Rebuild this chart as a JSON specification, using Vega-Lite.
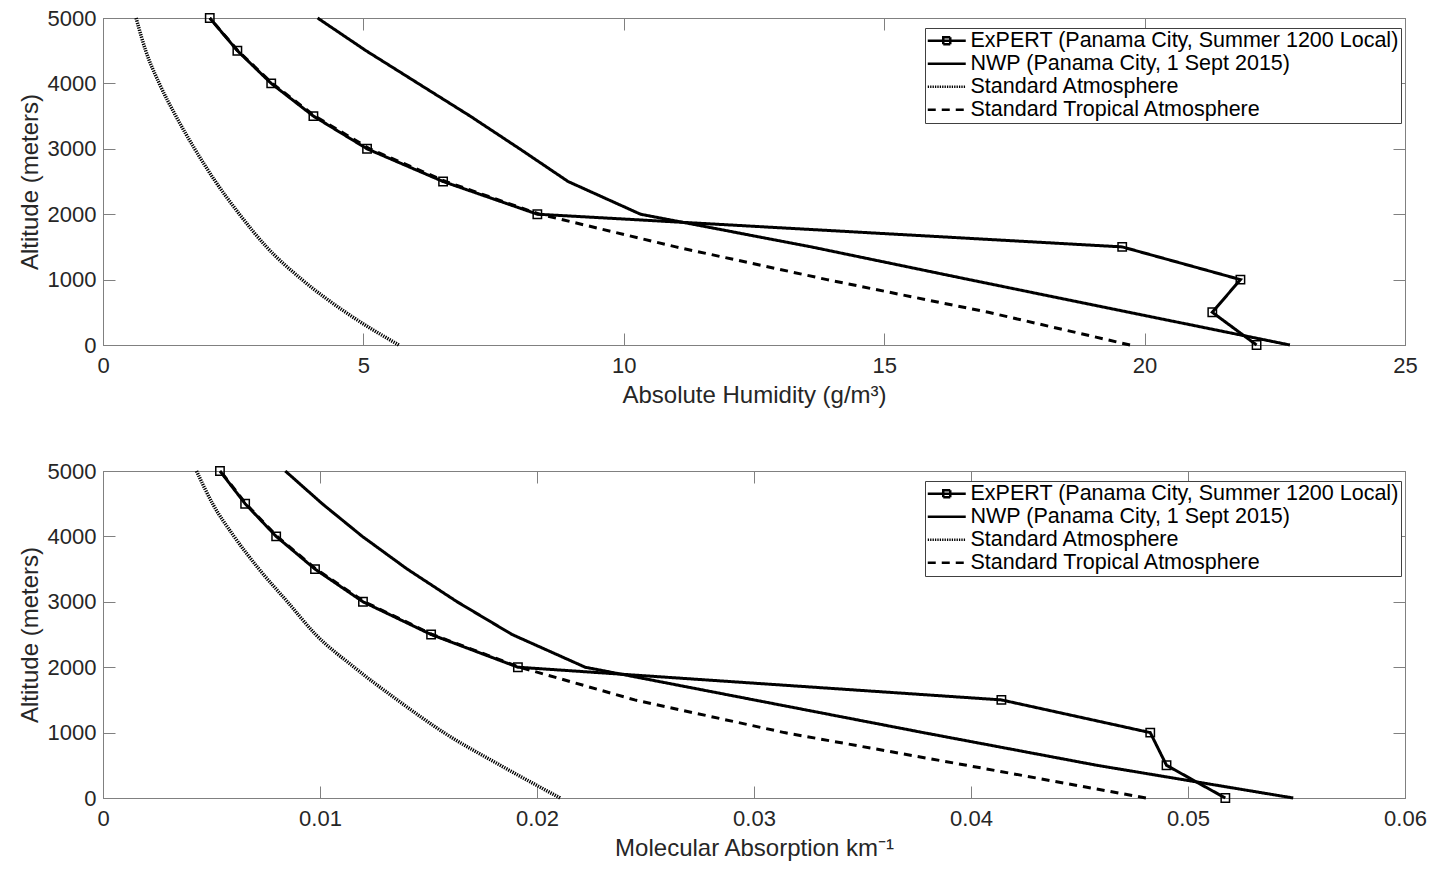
{
  "$schema": "https://vega.github.io/schema/vega-lite/v6.json",
  "background": "white",
  "padding": {"left": 17, "top": 6, "right": 0, "bottom": 0},
  "spacing": 51,
  "config": {
    "font": "Liberation Sans",
    "view": {"stroke": "#808080", "strokeWidth": 1},
    "axis": {
      "domainColor": "#808080", "tickColor": "#808080", "tickSize": -12, "tickWidth": 1,
      "labelFontSize": 22, "labelColor": "#262626", "labelFont": "Liberation Sans",
      "titleFontSize": 24, "titleFontWeight": "normal", "titleColor": "#262626", "titleFont": "Liberation Sans",
      "grid": false, "labelFlush": false
    },
    "axisX": {"labelPadding": 22, "titlePadding": 7},
    "axisY": {"labelPadding": 19, "titlePadding": 5}
  },
  "datasets": {
    "hum": [
      {"s": "ExPERT (Panama City, Summer 1200 Local)", "alt": 0, "v": 22.15},
      {"s": "ExPERT (Panama City, Summer 1200 Local)", "alt": 500, "v": 21.30},
      {"s": "ExPERT (Panama City, Summer 1200 Local)", "alt": 1000, "v": 21.84},
      {"s": "ExPERT (Panama City, Summer 1200 Local)", "alt": 1500, "v": 19.57},
      {"s": "ExPERT (Panama City, Summer 1200 Local)", "alt": 2000, "v": 8.34},
      {"s": "ExPERT (Panama City, Summer 1200 Local)", "alt": 2500, "v": 6.53},
      {"s": "ExPERT (Panama City, Summer 1200 Local)", "alt": 3000, "v": 5.07},
      {"s": "ExPERT (Panama City, Summer 1200 Local)", "alt": 3500, "v": 4.04},
      {"s": "ExPERT (Panama City, Summer 1200 Local)", "alt": 4000, "v": 3.23},
      {"s": "ExPERT (Panama City, Summer 1200 Local)", "alt": 4500, "v": 2.58},
      {"s": "ExPERT (Panama City, Summer 1200 Local)", "alt": 5000, "v": 2.05},
      {"s": "NWP (Panama City, 1 Sept 2015)", "alt": 0, "v": 22.79},
      {"s": "NWP (Panama City, 1 Sept 2015)", "alt": 500, "v": 19.70},
      {"s": "NWP (Panama City, 1 Sept 2015)", "alt": 1000, "v": 16.63},
      {"s": "NWP (Panama City, 1 Sept 2015)", "alt": 1500, "v": 13.60},
      {"s": "NWP (Panama City, 1 Sept 2015)", "alt": 2000, "v": 10.32},
      {"s": "NWP (Panama City, 1 Sept 2015)", "alt": 2500, "v": 8.93},
      {"s": "NWP (Panama City, 1 Sept 2015)", "alt": 3000, "v": 8.00},
      {"s": "NWP (Panama City, 1 Sept 2015)", "alt": 3500, "v": 7.05},
      {"s": "NWP (Panama City, 1 Sept 2015)", "alt": 4000, "v": 6.05},
      {"s": "NWP (Panama City, 1 Sept 2015)", "alt": 4500, "v": 5.05},
      {"s": "NWP (Panama City, 1 Sept 2015)", "alt": 5000, "v": 4.12},
      {"s": "Standard Atmosphere", "alt": 0, "v": 5.68},
      {"s": "Standard Atmosphere", "alt": 500, "v": 4.66},
      {"s": "Standard Atmosphere", "alt": 1000, "v": 3.82},
      {"s": "Standard Atmosphere", "alt": 1500, "v": 3.14},
      {"s": "Standard Atmosphere", "alt": 2000, "v": 2.62},
      {"s": "Standard Atmosphere", "alt": 2500, "v": 2.16},
      {"s": "Standard Atmosphere", "alt": 3000, "v": 1.76},
      {"s": "Standard Atmosphere", "alt": 3500, "v": 1.40},
      {"s": "Standard Atmosphere", "alt": 4000, "v": 1.08},
      {"s": "Standard Atmosphere", "alt": 4500, "v": 0.82},
      {"s": "Standard Atmosphere", "alt": 5000, "v": 0.635},
      {"s": "Standard Tropical Atmosphere", "alt": 0, "v": 19.72},
      {"s": "Standard Tropical Atmosphere", "alt": 500, "v": 17.0},
      {"s": "Standard Tropical Atmosphere", "alt": 1000, "v": 13.9},
      {"s": "Standard Tropical Atmosphere", "alt": 1500, "v": 11.0},
      {"s": "Standard Tropical Atmosphere", "alt": 2000, "v": 8.38},
      {"s": "Standard Tropical Atmosphere", "alt": 2500, "v": 6.58},
      {"s": "Standard Tropical Atmosphere", "alt": 3000, "v": 5.12},
      {"s": "Standard Tropical Atmosphere", "alt": 3500, "v": 4.07},
      {"s": "Standard Tropical Atmosphere", "alt": 4000, "v": 3.25},
      {"s": "Standard Tropical Atmosphere", "alt": 4500, "v": 2.59},
      {"s": "Standard Tropical Atmosphere", "alt": 5000, "v": 2.05}
    ],
    "abs": [
      {"s": "ExPERT (Panama City, Summer 1200 Local)", "alt": 0, "v": 0.05172},
      {"s": "ExPERT (Panama City, Summer 1200 Local)", "alt": 500, "v": 0.04901},
      {"s": "ExPERT (Panama City, Summer 1200 Local)", "alt": 1000, "v": 0.04826},
      {"s": "ExPERT (Panama City, Summer 1200 Local)", "alt": 1500, "v": 0.0414},
      {"s": "ExPERT (Panama City, Summer 1200 Local)", "alt": 2000, "v": 0.01912},
      {"s": "ExPERT (Panama City, Summer 1200 Local)", "alt": 2500, "v": 0.01512},
      {"s": "ExPERT (Panama City, Summer 1200 Local)", "alt": 3000, "v": 0.01198},
      {"s": "ExPERT (Panama City, Summer 1200 Local)", "alt": 3500, "v": 0.00977},
      {"s": "ExPERT (Panama City, Summer 1200 Local)", "alt": 4000, "v": 0.00798},
      {"s": "ExPERT (Panama City, Summer 1200 Local)", "alt": 4500, "v": 0.00655},
      {"s": "ExPERT (Panama City, Summer 1200 Local)", "alt": 5000, "v": 0.00539},
      {"s": "NWP (Panama City, 1 Sept 2015)", "alt": 0, "v": 0.05485},
      {"s": "NWP (Panama City, 1 Sept 2015)", "alt": 500, "v": 0.0458},
      {"s": "NWP (Panama City, 1 Sept 2015)", "alt": 1000, "v": 0.0378},
      {"s": "NWP (Panama City, 1 Sept 2015)", "alt": 1500, "v": 0.0300},
      {"s": "NWP (Panama City, 1 Sept 2015)", "alt": 2000, "v": 0.02222},
      {"s": "NWP (Panama City, 1 Sept 2015)", "alt": 2500, "v": 0.01885},
      {"s": "NWP (Panama City, 1 Sept 2015)", "alt": 3000, "v": 0.01632},
      {"s": "NWP (Panama City, 1 Sept 2015)", "alt": 3500, "v": 0.01402},
      {"s": "NWP (Panama City, 1 Sept 2015)", "alt": 4000, "v": 0.01195},
      {"s": "NWP (Panama City, 1 Sept 2015)", "alt": 4500, "v": 0.0101},
      {"s": "NWP (Panama City, 1 Sept 2015)", "alt": 5000, "v": 0.0084},
      {"s": "Standard Atmosphere", "alt": 0, "v": 0.02107},
      {"s": "Standard Atmosphere", "alt": 500, "v": 0.01831},
      {"s": "Standard Atmosphere", "alt": 1000, "v": 0.01571},
      {"s": "Standard Atmosphere", "alt": 1500, "v": 0.01356},
      {"s": "Standard Atmosphere", "alt": 2000, "v": 0.01157},
      {"s": "Standard Atmosphere", "alt": 2500, "v": 0.0098},
      {"s": "Standard Atmosphere", "alt": 3000, "v": 0.0085},
      {"s": "Standard Atmosphere", "alt": 3500, "v": 0.00719},
      {"s": "Standard Atmosphere", "alt": 4000, "v": 0.00604},
      {"s": "Standard Atmosphere", "alt": 4500, "v": 0.00505},
      {"s": "Standard Atmosphere", "alt": 5000, "v": 0.00431},
      {"s": "Standard Tropical Atmosphere", "alt": 0, "v": 0.04806},
      {"s": "Standard Tropical Atmosphere", "alt": 500, "v": 0.0398},
      {"s": "Standard Tropical Atmosphere", "alt": 1000, "v": 0.0314},
      {"s": "Standard Tropical Atmosphere", "alt": 1500, "v": 0.0245},
      {"s": "Standard Tropical Atmosphere", "alt": 2000, "v": 0.0192},
      {"s": "Standard Tropical Atmosphere", "alt": 2500, "v": 0.01518},
      {"s": "Standard Tropical Atmosphere", "alt": 3000, "v": 0.01205},
      {"s": "Standard Tropical Atmosphere", "alt": 3500, "v": 0.00982},
      {"s": "Standard Tropical Atmosphere", "alt": 4000, "v": 0.00802},
      {"s": "Standard Tropical Atmosphere", "alt": 4500, "v": 0.00658},
      {"s": "Standard Tropical Atmosphere", "alt": 5000, "v": 0.00541}
    ]
  },
  "resolve": {"scale": {"strokeDash": "independent"}, "legend": {"strokeDash": "independent"}},
  "vconcat": [
    {
      "width": 1302, "height": 327,
      "data": {"name": "hum"},
      "resolve": {"axis": {"x": "independent", "y": "independent"}},
      "layer": [
        {
          "transform": [{"filter": "datum.s !== 'Standard Atmosphere'"}],
          "mark": {"type": "line", "color": "black", "strokeWidth": 3},
          "encoding": {
            "x": {"field": "v", "type": "quantitative", "scale": {"domain": [0, 25], "nice": false, "zero": false},
                  "axis": {"values": [0, 5, 10, 15, 20, 25], "format": "d", "title": "Absolute Humidity (g/m³)"}},
            "y": {"field": "alt", "type": "quantitative", "scale": {"domain": [0, 5000], "nice": false},
                  "axis": {"values": [0, 1000, 2000, 3000, 4000, 5000], "format": "d", "title": "Altitude (meters)"}},
            "strokeDash": {"field": "s", "type": "nominal",
              "scale": {"domain": ["ExPERT (Panama City, Summer 1200 Local)", "NWP (Panama City, 1 Sept 2015)", "Standard Atmosphere", "Standard Tropical Atmosphere"],
                        "range": [[1, 0], [1, 0], [1.3, 1.1], [8, 6]]},
              "legend": {"title": null, "orient": "none", "legendX": 822, "legendY": 10, "labelFontSize": 21.5, "labelFont": "Liberation Sans", "labelColor": "black",
                "symbolSize": 100, "symbolOffset": 9, "symbolStrokeWidth": 2.5, "symbolStrokeColor": "black", "symbolFillColor": "transparent",
                "strokeColor": "#404040", "fillColor": "white", "padding": 2, "rowPadding": 0, "labelOffset": 13, "labelLimit": 700,
                "encode": {"symbols": {"update": {"shape": {"signal": "datum.value === 'ExPERT (Panama City, Summer 1200 Local)' ? 'M-3.8,0H3.8M-0.7,-0.7H0.7V0.7H-0.7Z' : 'M-3.8,0H3.8'"}}}}}},
            "order": {"field": "alt", "type": "quantitative"}
          }
        },
        {
          "transform": [{"filter": "datum.s === 'Standard Atmosphere'"}],
          "mark": {"type": "line", "color": "black", "strokeWidth": 3.5, "interpolate": "monotone"},
          "encoding": {
            "x": {"field": "v", "type": "quantitative", "axis": null},
            "y": {"field": "alt", "type": "quantitative", "axis": null},
            "strokeDash": {"field": "s", "type": "nominal",
              "legend": {"title": null, "orient": "none", "legendX": 822, "legendY": 10, "labelFontSize": 21.5, "labelFont": "Liberation Sans", "labelColor": "black",
                "symbolSize": 100, "symbolOffset": 9, "symbolStrokeWidth": 2.5, "symbolStrokeColor": "black", "symbolFillColor": "transparent",
                "strokeColor": "#404040", "fillColor": "white", "padding": 2, "rowPadding": 0, "labelOffset": 13, "labelLimit": 700,
                "encode": {"symbols": {"update": {"shape": {"signal": "datum.value === 'ExPERT (Panama City, Summer 1200 Local)' ? 'M-3.8,0H3.8M-0.7,-0.7H0.7V0.7H-0.7Z' : 'M-3.8,0H3.8'"}}}}}},
            "order": {"field": "v", "type": "quantitative"}
          }
        },
        {
          "transform": [{"filter": "datum.s === 'ExPERT (Panama City, Summer 1200 Local)'"}],
          "mark": {"type": "point", "shape": "square", "filled": false, "color": "black", "size": 70, "strokeWidth": 1.5, "opacity": 1},
          "encoding": {
            "x": {"field": "v", "type": "quantitative", "axis": {"orient": "top", "labels": false, "title": null, "values": [0, 5, 10, 15, 20, 25]}},
            "y": {"field": "alt", "type": "quantitative", "axis": {"orient": "right", "labels": false, "title": null, "values": [0, 1000, 2000, 3000, 4000, 5000]}}
          }
        }
      ]
    },
    {
      "width": 1302, "height": 327,
      "data": {"name": "abs"},
      "resolve": {"axis": {"x": "independent", "y": "independent"}},
      "layer": [
        {
          "transform": [{"filter": "datum.s !== 'Standard Atmosphere'"}],
          "mark": {"type": "line", "color": "black", "strokeWidth": 3},
          "encoding": {
            "x": {"field": "v", "type": "quantitative", "scale": {"domain": [0, 0.06], "nice": false, "zero": false},
                  "axis": {"values": [0, 0.01, 0.02, 0.03, 0.04, 0.05, 0.06], "format": ".2~f", "title": "Molecular Absorption km⁻¹"}},
            "y": {"field": "alt", "type": "quantitative", "scale": {"domain": [0, 5000], "nice": false},
                  "axis": {"values": [0, 1000, 2000, 3000, 4000, 5000], "format": "d", "title": "Altitude (meters)"}},
            "strokeDash": {"field": "s", "type": "nominal",
              "scale": {"domain": ["ExPERT (Panama City, Summer 1200 Local)", "NWP (Panama City, 1 Sept 2015)", "Standard Atmosphere", "Standard Tropical Atmosphere"],
                        "range": [[1, 0], [1, 0], [1.3, 1.1], [8, 6]]},
              "legend": {"title": null, "orient": "none", "legendX": 822, "legendY": 10, "labelFontSize": 21.5, "labelFont": "Liberation Sans", "labelColor": "black",
                "symbolSize": 100, "symbolOffset": 9, "symbolStrokeWidth": 2.5, "symbolStrokeColor": "black", "symbolFillColor": "transparent",
                "strokeColor": "#404040", "fillColor": "white", "padding": 2, "rowPadding": 0, "labelOffset": 13, "labelLimit": 700,
                "encode": {"symbols": {"update": {"shape": {"signal": "datum.value === 'ExPERT (Panama City, Summer 1200 Local)' ? 'M-3.8,0H3.8M-0.7,-0.7H0.7V0.7H-0.7Z' : 'M-3.8,0H3.8'"}}}}}},
            "order": {"field": "alt", "type": "quantitative"}
          }
        },
        {
          "transform": [{"filter": "datum.s === 'Standard Atmosphere'"}],
          "mark": {"type": "line", "color": "black", "strokeWidth": 3.5, "interpolate": "monotone"},
          "encoding": {
            "x": {"field": "v", "type": "quantitative", "axis": null},
            "y": {"field": "alt", "type": "quantitative", "axis": null},
            "strokeDash": {"field": "s", "type": "nominal",
              "legend": {"title": null, "orient": "none", "legendX": 822, "legendY": 10, "labelFontSize": 21.5, "labelFont": "Liberation Sans", "labelColor": "black",
                "symbolSize": 100, "symbolOffset": 9, "symbolStrokeWidth": 2.5, "symbolStrokeColor": "black", "symbolFillColor": "transparent",
                "strokeColor": "#404040", "fillColor": "white", "padding": 2, "rowPadding": 0, "labelOffset": 13, "labelLimit": 700,
                "encode": {"symbols": {"update": {"shape": {"signal": "datum.value === 'ExPERT (Panama City, Summer 1200 Local)' ? 'M-3.8,0H3.8M-0.7,-0.7H0.7V0.7H-0.7Z' : 'M-3.8,0H3.8'"}}}}}},
            "order": {"field": "v", "type": "quantitative"}
          }
        },
        {
          "transform": [{"filter": "datum.s === 'ExPERT (Panama City, Summer 1200 Local)'"}],
          "mark": {"type": "point", "shape": "square", "filled": false, "color": "black", "size": 70, "strokeWidth": 1.5, "opacity": 1},
          "encoding": {
            "x": {"field": "v", "type": "quantitative", "axis": {"orient": "top", "labels": false, "title": null, "values": [0, 0.01, 0.02, 0.03, 0.04, 0.05, 0.06]}},
            "y": {"field": "alt", "type": "quantitative", "axis": {"orient": "right", "labels": false, "title": null, "values": [0, 1000, 2000, 3000, 4000, 5000]}}
          }
        }
      ]
    }
  ]
}
